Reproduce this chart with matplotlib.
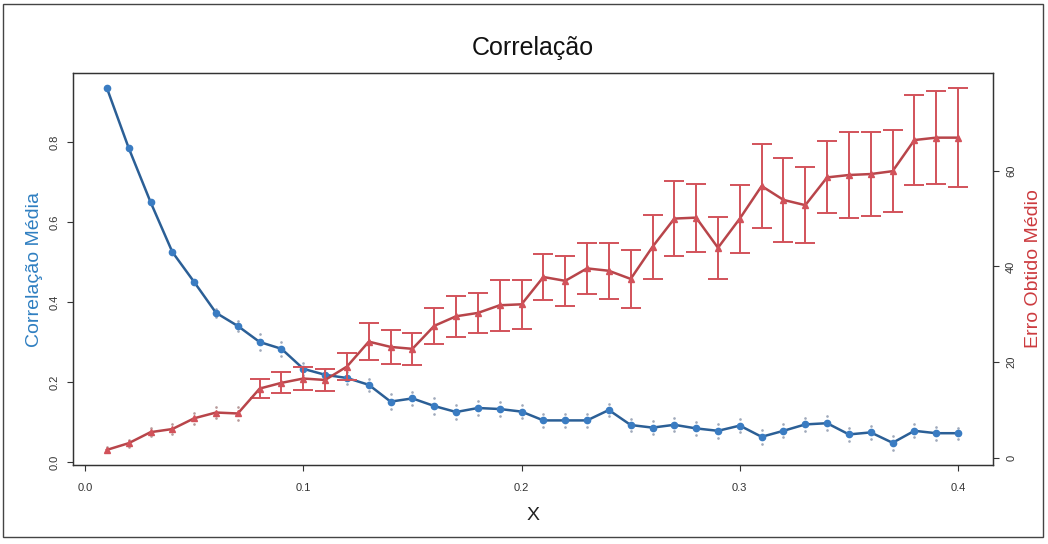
import matplotlib
matplotlib.use("Agg")
import matplotlib.pyplot as plt
from matplotlib.patches import Rectangle
import numpy as np

plt.rcParams['font.family'] = ['Liberation Sans', 'DejaVu Sans']

x_vals = [round(0.01 * i, 2) for i in range(1, 41)]

corr_mean = [0.935, 0.785, 0.65, 0.525, 0.45, 0.373, 0.34, 0.30, 0.283, 0.233,
             0.218, 0.21, 0.193, 0.151, 0.159, 0.14, 0.125, 0.135, 0.1325, 0.126,
             0.104, 0.104, 0.104, 0.13, 0.0925, 0.086, 0.093, 0.084, 0.078, 0.091,
             0.063, 0.078, 0.094, 0.097, 0.069, 0.074, 0.048, 0.078, 0.072, 0.072]
corr_err = [0.004, 0.005, 0.005, 0.005, 0.006, 0.010, 0.012, 0.020, 0.017, 0.015,
            0.014, 0.016, 0.015, 0.018, 0.016, 0.019, 0.017, 0.018, 0.017, 0.016,
            0.016, 0.016, 0.017, 0.016, 0.015, 0.017, 0.016, 0.016, 0.017, 0.017,
            0.017, 0.016, 0.016, 0.017, 0.017, 0.016, 0.018, 0.016, 0.016, 0.014]

erro_mean = [1.7, 3.1, 5.4, 6.05, 8.3, 9.5, 9.3, 14.5, 15.7, 16.6,
             16.3, 19.1, 24.3, 23.2, 22.8, 27.6, 29.6, 30.3, 31.9, 32.1,
             37.8, 37.0, 39.6, 39.1, 37.4, 44.1, 50.0, 50.2, 43.9, 50.0,
             56.8, 53.9, 52.8, 58.6, 59.1, 59.3, 59.9, 66.4, 66.9, 66.9]
erro_err = [0.5, 0.7, 0.8, 1.0, 1.2, 1.2, 1.4, 2.0, 2.2, 2.5,
            2.3, 2.8, 3.8, 3.5, 3.4, 3.8, 4.3, 4.1, 5.3, 5.1,
            4.7, 5.2, 5.4, 5.8, 6.1, 6.7, 7.9, 7.1, 6.5, 7.1,
            8.7, 8.7, 7.9, 7.5, 8.9, 8.7, 8.6, 9.4, 9.7, 10.3]

x_ticks = [0.0, 0.1, 0.2, 0.3, 0.4]
x_ticklabels = ["0.0", "0.1", "0.2", "0.3", "0.4"]
left_ticks = [0.0, 0.2, 0.4, 0.6, 0.8]
left_ticklabels = ["0.0", "0.2", "0.4", "0.6", "0.8"]
right_ticks = [0, 20, 40, 60]
right_ticklabels = ["0", "20", "40", "60"]

title = "Correlação"
xlabel = "X"
left_label = "Correlação Média"
right_label = "Erro Obtido Médio"

BLUE_LINE = "#2b5f96"
BLUE_MARK = "#3a7cc2"
BLUE_LABEL = "#2f7fc1"
RED_LINE = "#b8454a"
RED_BAR = "#d2525a"
RED_LABEL = "#cc3b3f"
AXC = "#333333"

fig = plt.figure(figsize=(10.48, 5.44), dpi=100)
ax = fig.add_axes([0.0697, 0.1452, 0.8778, 0.7206])
ax2 = ax.twinx()

xa = np.array(x_vals)
cm = np.array(corr_mean)
ce = np.array(corr_err)
em = np.array(erro_mean)
ee = np.array(erro_err)

# blue series
ax.plot(xa, cm + ce, linestyle='none', marker='.', markersize=1.8, color='#a0aabb', zorder=2)
ax.plot(xa, cm - ce, linestyle='none', marker='.', markersize=1.8, color='#a0aabb', zorder=2)
ax.plot(xa, cm, color=BLUE_LINE, linewidth=1.8, marker='o', markersize=4.5,
        markerfacecolor=BLUE_MARK, markeredgecolor=BLUE_MARK, zorder=3)

# red series
small = ee < 1.5
big = ~small
ax2.plot(xa[small], em[small] + ee[small], linestyle='none', marker='.', markersize=1.8, color='#b89a9a', zorder=2)
ax2.plot(xa[small], em[small] - ee[small], linestyle='none', marker='.', markersize=1.8, color='#b89a9a', zorder=2)
ax2.errorbar(xa[big], em[big], yerr=ee[big], fmt='none', ecolor=RED_BAR,
             elinewidth=1.4, capsize=7.2, capthick=1.4, zorder=2)
ax2.plot(xa, em, color=RED_LINE, linewidth=1.8, marker='^', markersize=5,
         markerfacecolor=RED_BAR, markeredgecolor=RED_BAR, zorder=3)

ax.set_xlim(-0.0055, 0.416)
ax.set_ylim(-0.0075, 0.9725)
ax2.set_ylim(-1.46, 80.4)

ax.set_xticks(x_ticks)
ax.set_xticklabels(x_ticklabels, fontsize=8, color=AXC)
ax.set_yticks(left_ticks)
ax.set_yticklabels(left_ticklabels, fontsize=8, color=AXC, rotation=90, va='center')
ax2.set_yticks(right_ticks)
ax2.set_yticklabels(right_ticklabels, fontsize=8, color=AXC, rotation=90, va='center')

for a in (ax, ax2):
    a.tick_params(direction='out', length=4, width=0.8, color=AXC, pad=5.5)
    for s in a.spines.values():
        s.set_color(AXC)
        s.set_linewidth(0.9)
ax.tick_params(axis='x', pad=9)

ax.set_xlabel(xlabel, fontsize=14, color='#222222', labelpad=10)
ax.set_ylabel(left_label, fontsize=14, color=BLUE_LABEL, labelpad=5)
ax2.set_ylabel(right_label, fontsize=14, color=RED_LABEL, labelpad=6, rotation=90)
ax.set_title(title, fontsize=18, color='#111111', pad=13)

fig.patches.append(Rectangle((0.003, 0.012), 0.992, 0.981, transform=fig.transFigure,
                             fill=False, edgecolor='#444444', linewidth=1.0))

fig.savefig("out.png", dpi=100)
